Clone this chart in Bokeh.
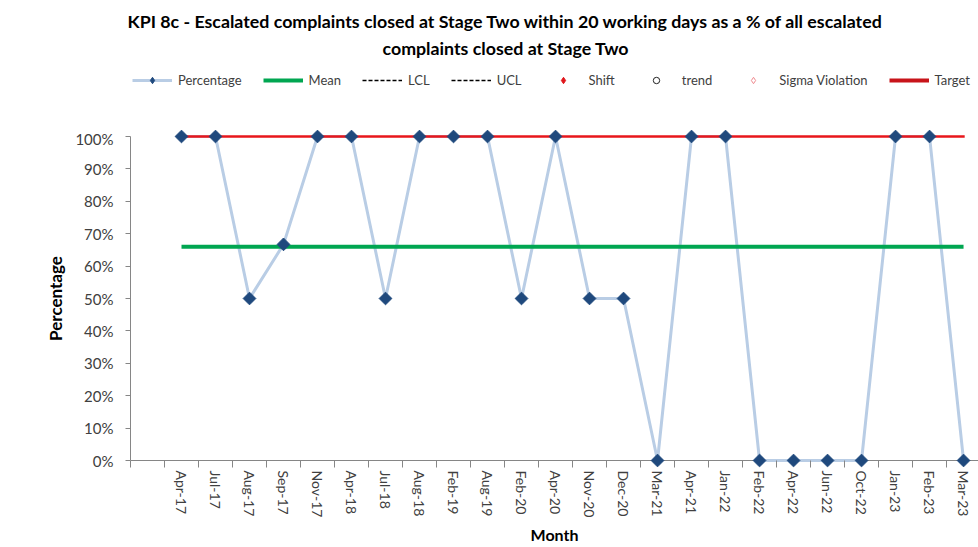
import numpy as np
from bokeh.plotting import figure
from bokeh.layouts import column
from bokeh.models import (Range1d, FixedTicker, NumeralTickFormatter, Legend, LegendItem,
                          Title, ColumnDataSource, Span)
from bokeh.embed import file_html
from bokeh.resources import INLINE

# ---- data ----
months = ["Apr-17", "Jul-17", "Aug-17", "Sep-17", "Nov-17", "Apr-18", "Jul-18", "Aug-18",
          "Feb-19", "Aug-19", "Feb-20", "Apr-20", "Nov-20", "Dec-20", "Mar-21", "Apr-21",
          "Jan-22", "Feb-22", "Apr-22", "Jun-22", "Oct-22", "Jan-23", "Feb-23", "Mar-23"]
percentage = [1.00, 1.00, 0.50, 0.667, 1.00, 1.00, 0.50, 1.00,
              1.00, 1.00, 0.50, 1.00, 0.50, 0.50, 0.00, 1.00,
              1.00, 0.00, 0.00, 0.00, 0.00, 1.00, 1.00, 0.00]
mean_value = 0.66
target_value = 1.00
y_ticks = [0.0, 0.1, 0.2, 0.3, 0.4, 0.5, 0.6, 0.7, 0.8, 0.9, 1.0]
legend_labels = ["Percentage", "Mean", "LCL", "UCL", "Shift", "trend", "Sigma Violation", "Target"]

FONT = "Lato"
TXT = "#404040"
AXIS = "#868686"
C_LINE = "#B9CDE5"
C_PT = "#1F497D"
C_MEAN = "#00A651"
C_TARGET = "#E8161B"

# ================= header figure: title + legend =================
head = figure(width=978, height=129, output_backend="svg", toolbar_location=None,
              x_range=Range1d(0, 1), y_range=Range1d(0, 1),
              x_axis_location=None, y_axis_location=None,
              min_border_left=0, min_border_right=0, min_border_top=60, min_border_bottom=0)
head.outline_line_color = None
head.xgrid.grid_line_color = None
head.ygrid.grid_line_color = None
head.border_fill_color = "white"

nan = dict(x=[0.5], y=[np.nan])
h_line = head.line(x="x", y="y", source=ColumnDataSource(nan), line_color=C_LINE, line_width=3)
h_pt = head.scatter(x="x", y="y", source=ColumnDataSource(nan), marker="diamond", size=10,
                    fill_color=C_PT, line_color=C_PT)
h_mean = head.line(x="x", y="y", source=ColumnDataSource(nan), line_color=C_MEAN, line_width=4)
h_lcl = head.line(x="x", y="y", source=ColumnDataSource(nan), line_color="black", line_width=1.5, line_dash="4 2")
h_ucl = head.line(x="x", y="y", source=ColumnDataSource(nan), line_color="black", line_width=1.5, line_dash="4 2")
h_shift = head.scatter(x="x", y="y", source=ColumnDataSource(nan), marker="diamond", size=8,
                       fill_color="#E0161B", line_color="#E0161B")
h_trend = head.scatter(x="x", y="y", source=ColumnDataSource(nan), marker="circle", size=7,
                       fill_color=None, line_color="#222222")
h_sigma = head.scatter(x="x", y="y", source=ColumnDataSource(nan), marker="diamond", size=8,
                       fill_color=None, line_color="#F08A8F")
h_target = head.line(x="x", y="y", source=ColumnDataSource(nan), line_color="#C8141A", line_width=4)

groups = [[h_line, h_pt], [h_mean], [h_lcl], [h_ucl], [h_shift], [h_trend], [h_sigma], [h_target]]
legend = Legend(items=[LegendItem(label=l, renderers=g) for l, g in zip(legend_labels, groups)],
                orientation="horizontal", location=(2, 41))
legend.background_fill_alpha = 0
legend.border_line_color = None
legend.padding = 0
legend.margin = 0
legend.spacing = 21
legend.glyph_width = 40
legend.glyph_height = 16
legend.label_standoff = 6
legend.label_text_font = FONT
legend.label_text_font_size = "13px"
legend.label_text_color = TXT
legend.label_height = 16
head.add_layout(legend, "center")

t2 = Title(text="complaints closed at Stage Two", align="left", offset=252, standoff=3,
           text_font=FONT, text_font_size="17.8px", text_font_style="bold", text_color="black")
t1 = Title(text="KPI 8c - Escalated complaints closed at Stage Two within 20 working days as a % of all escalated",
           align="left", offset=-3, standoff=3,
           text_font=FONT, text_font_size="17.8px", text_font_style="bold", text_color="black")
head.add_layout(t2, "above")
head.add_layout(t1, "above")

# ================= main chart =================
xs = [i + 1.5 for i in range(len(months))]   # first category slot is blank, as in the original
boundaries = list(range(0, len(months) + 1))

pad = 7 / 324.0
p = figure(width=978, height=418, output_backend="svg", toolbar_location=None,
           x_range=Range1d(0, 24.94), y_range=Range1d(-pad, 1 + pad),
           min_border_left=130, min_border_right=0, min_border_top=0, min_border_bottom=80)
p.outline_line_color = None
p.xgrid.grid_line_color = None
p.ygrid.grid_line_color = None
p.border_fill_color = "white"

p.add_layout(Span(location=0, dimension="width", line_color=AXIS, line_width=1, level="underlay"))

src = ColumnDataSource(dict(x=xs, y=percentage))
p.line("x", "y", source=src, line_color=C_LINE, line_width=3)
p.line([xs[0], xs[-1]], [mean_value, mean_value], line_color=C_MEAN, line_width=4)
p.line([xs[0], xs[-1]], [target_value, target_value], line_color=C_TARGET,
       line_width=2.3, line_cap="square")
p.scatter("x", "y", source=src, marker="square", angle=np.pi / 4, size=9,
          fill_color=C_PT, line_color=C_PT)

xa = p.xaxis[0]
xa.ticker = FixedTicker(ticks=xs, minor_ticks=boundaries)
xa.major_label_overrides = {x: m for x, m in zip(xs, months)}
xa.major_label_orientation = "vertical"
xa.axis_line_color = None
xa.major_tick_line_color = None
xa.major_tick_out = 0
xa.major_tick_in = 0
xa.minor_tick_out = 0
xa.minor_tick_in = 7
xa.minor_tick_line_color = AXIS
xa.major_label_text_font = FONT
xa.major_label_text_font_size = "14px"
xa.major_label_text_color = TXT
xa.major_label_standoff = 3
xa.axis_label = "Month"
xa.axis_label_text_font = FONT
xa.axis_label_text_font_size = "16px"
xa.axis_label_text_font_style = "bold"
xa.axis_label_text_color = "black"
xa.axis_label_standoff = 5

ya = p.yaxis[0]
ya.ticker = FixedTicker(ticks=y_ticks)
ya.bounds = (0, 1)
ya.formatter = NumeralTickFormatter(format="0%")
ya.major_tick_out = 5
ya.major_tick_in = 0
ya.minor_tick_line_color = None
ya.major_tick_line_color = AXIS
ya.axis_line_color = AXIS
ya.major_label_text_font = FONT
ya.major_label_text_font_size = "15px"
ya.major_label_text_color = TXT
ya.major_label_standoff = 12
ya.axis_label = "Percentage"
ya.axis_label_text_font = FONT
ya.axis_label_text_font_size = "17px"
ya.axis_label_text_font_style = "bold"
ya.axis_label_text_color = "black"
ya.axis_label_standoff = 6

layout = column(head, p, spacing=0)
open("out.html", "w").write(file_html(layout, INLINE))
